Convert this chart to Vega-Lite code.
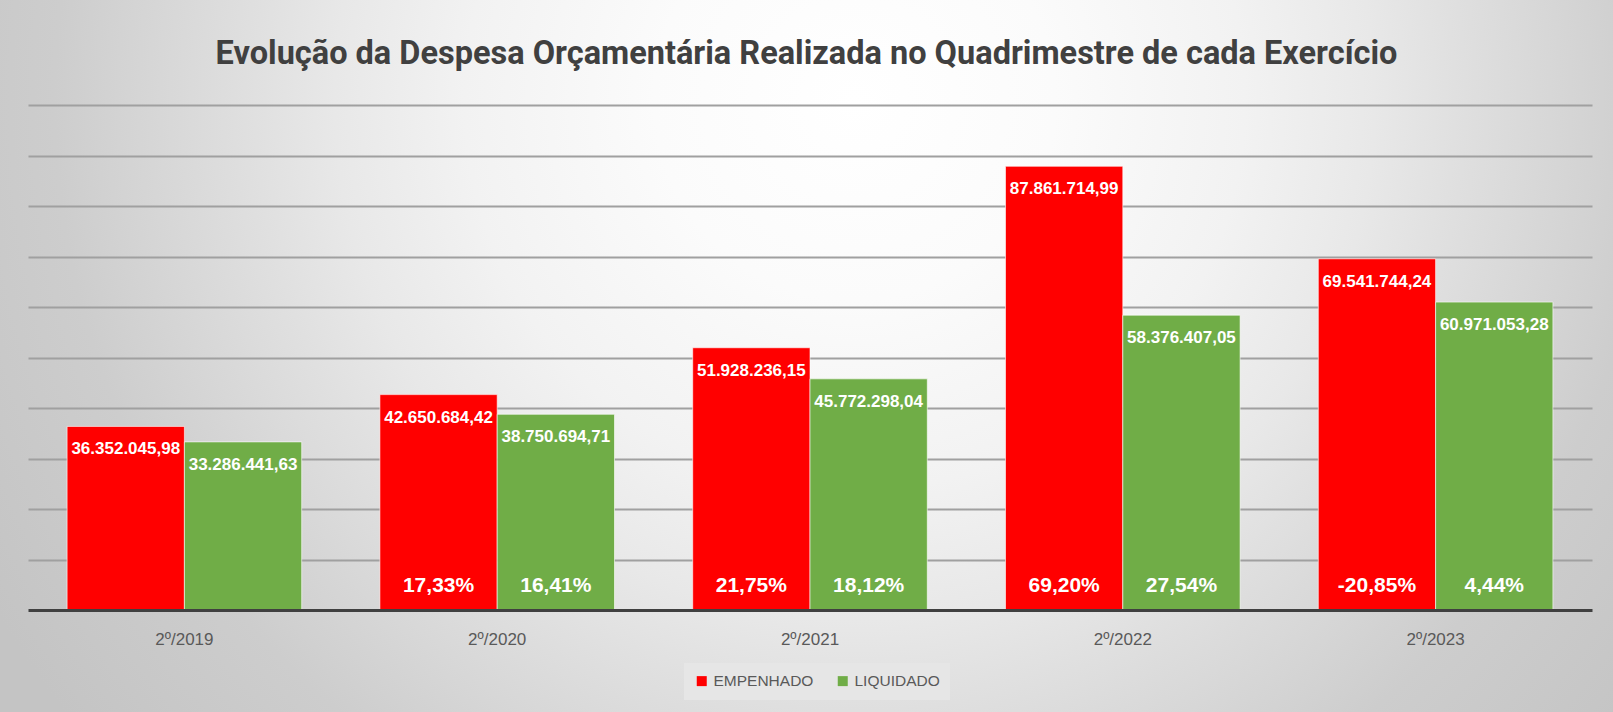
{
  "$schema": "https://vega.github.io/schema/vega-lite/v6.json",
  "width": 1613,
  "height": 712,
  "autosize": {"type": "none"},
  "padding": 0,
  "background": "#ffffff",
  "config": {
    "locale": {"number": {"decimal": ",", "thousands": ".", "grouping": [3], "currency": ["R$", ""], "minus": "-"}},
    "view": {
      "stroke": null,
      "fill": {
        "gradient": "radial",
        "x1": 0.53, "y1": 0.3413, "r1": 0,
        "x2": 0.53, "y2": 0.3413, "r2": 0.62,
        "stops": [
          {"offset": 0, "color": "#ffffff"},
          {"offset": 0.2, "color": "#fbfbfb"},
          {"offset": 0.39, "color": "#f2f2f2"},
          {"offset": 0.52, "color": "#e8e8e8"},
          {"offset": 0.6, "color": "#e0e0e0"},
          {"offset": 0.8, "color": "#cdcdcd"},
          {"offset": 1, "color": "#c4c4c4"}
        ]
      }
    }
  },
  "title": {
    "text": "Evolução da Despesa Orçamentária Realizada no Quadrimestre de cada Exercício",
    "font": "Roboto",
    "fontSize": 32.5,
    "fontWeight": "bold",
    "color": "#404040",
    "anchor": "middle",
    "baseline": "alphabetic",
    "offset": -96
  },
  "data": {
    "values": [
      {"periodo": "2º/2019", "tipo": "EMPENHADO", "valor": 36352045.98, "variacao": null},
      {"periodo": "2º/2019", "tipo": "LIQUIDADO", "valor": 33286441.63, "variacao": null},
      {"periodo": "2º/2020", "tipo": "EMPENHADO", "valor": 42650684.42, "variacao": 0.1733},
      {"periodo": "2º/2020", "tipo": "LIQUIDADO", "valor": 38750694.71, "variacao": 0.1641},
      {"periodo": "2º/2021", "tipo": "EMPENHADO", "valor": 51928236.15, "variacao": 0.2175},
      {"periodo": "2º/2021", "tipo": "LIQUIDADO", "valor": 45772298.04, "variacao": 0.1812},
      {"periodo": "2º/2022", "tipo": "EMPENHADO", "valor": 87861714.99, "variacao": 0.692},
      {"periodo": "2º/2022", "tipo": "LIQUIDADO", "valor": 58376407.05, "variacao": 0.2754},
      {"periodo": "2º/2023", "tipo": "EMPENHADO", "valor": 69541744.24, "variacao": -0.2085},
      {"periodo": "2º/2023", "tipo": "LIQUIDADO", "valor": 60971053.28, "variacao": 0.0444}
    ]
  },
  "encoding": {
    "x": {
      "field": "periodo",
      "type": "nominal",
      "sort": null,
      "scale": {"range": [28, 1592], "paddingInner": 0.25, "paddingOuter": 0.125},
      "axis": {
        "title": null,
        "orient": "bottom",
        "offset": -102,
        "labelAngle": 0,
        "labelFont": "Liberation Sans",
        "labelFontSize": 17,
        "labelColor": "#595959",
        "labelBaseline": "alphabetic",
        "labelPadding": 34,
        "ticks": false,
        "tickSize": 0,
        "domainColor": "#404040",
        "domainWidth": 3,
        "grid": false,
        "zindex": 1
      }
    },
    "xOffset": {"field": "tipo", "type": "nominal", "sort": ["EMPENHADO", "LIQUIDADO"], "scale": {"paddingInner": 0, "paddingOuter": 0}}
  },
  "layer": [
    {
      "mark": {"type": "bar", "stroke": "#ffffff", "strokeWidth": 1, "strokeOpacity": 0.6},
      "encoding": {
        "y": {
          "field": "valor",
          "type": "quantitative",
          "scale": {"domain": [0, 100000000], "nice": false, "range": [610, 105]},
          "axis": {
            "title": null,
            "labels": false,
            "ticks": false,
            "domain": false,
            "grid": true,
            "gridColor": "#a0a0a0",
            "gridWidth": 2,
            "values": [10000000, 20000000, 30000000, 40000000, 50000000, 60000000, 70000000, 80000000, 90000000, 100000000]
          }
        },
        "color": {
          "field": "tipo",
          "type": "nominal",
          "sort": ["EMPENHADO", "LIQUIDADO"],
          "scale": {"domain": ["EMPENHADO", "LIQUIDADO"], "range": ["#ff0000", "#70ad47"]},
          "legend": {
            "title": null,
            "orient": "none",
            "direction": "horizontal",
            "legendX": 684,
            "legendY": 663,
            "padding": 10,
            "fillColor": "#e6e6e6",
            "symbolType": "square",
            "symbolSize": 100,
            "symbolStrokeWidth": 0,
            "labelFont": "Liberation Sans",
            "labelFontSize": 15.5,
            "labelColor": "#595959",
            "labelOffset": 4,
            "columnPadding": 21
          }
        }
      }
    },
    {
      "mark": {"type": "text", "color": "#ffffff", "font": "Liberation Sans", "fontWeight": "bold", "fontSize": 17, "baseline": "middle", "dy": 23},
      "encoding": {
        "y": {"field": "valor", "type": "quantitative"},
        "text": {"field": "valor", "type": "quantitative", "format": ",.2f"}
      }
    },
    {
      "transform": [{"filter": "isValid(datum.variacao)"}],
      "mark": {"type": "text", "color": "#ffffff", "font": "Liberation Sans", "fontWeight": "bold", "fontSize": 21, "baseline": "middle", "dy": -24},
      "encoding": {
        "y": {"datum": 0, "type": "quantitative"},
        "text": {"field": "variacao", "type": "quantitative", "format": ".2%"}
      }
    }
  ]
}
